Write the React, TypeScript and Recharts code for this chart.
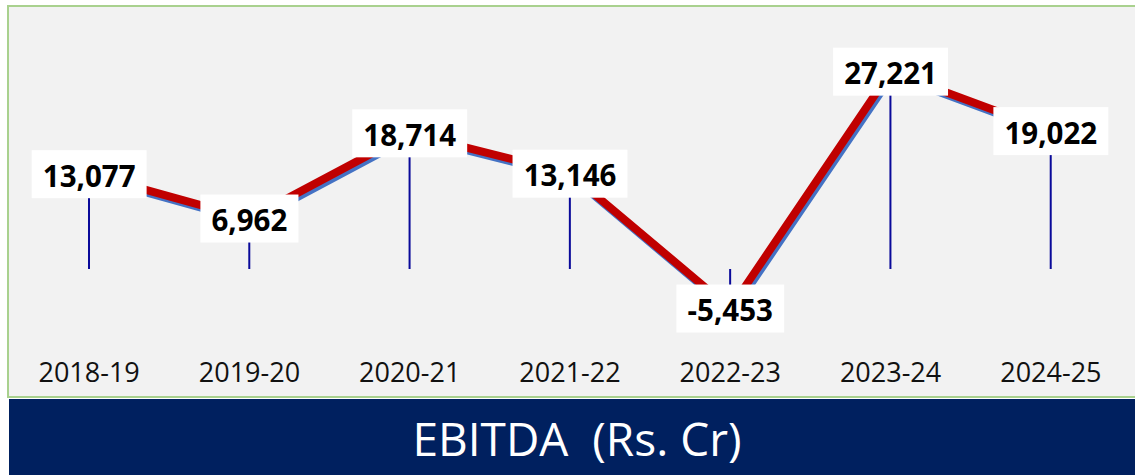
import React from "react";
import { ComposedChart, Line, Bar, XAxis, YAxis, LabelList } from "recharts";

const categories = ["2018-19", "2019-20", "2020-21", "2021-22", "2022-23", "2023-24", "2024-25"];
const ebitda = [13077, 6962, 18714, 13146, -5453, 27221, 19022];
const yDomain = [-10000, 30000];
const title = "EBITDA  (Rs. Cr)";

const data = categories.map((c, i) => ({ year: c, value: ebitda[i] }));

const fmt = (v: number) => v.toLocaleString("en-US");

const estWidth = (s: string, fs: number) => {
  let w = 0;
  for (const ch of s) {
    if (ch >= "0" && ch <= "9") w += 0.572;
    else if (ch === ",") w += 0.29;
    else if (ch === "-") w += 0.33;
    else w += 0.5;
  }
  return w * fs;
};

const ValueLabel = (props: any) => {
  const { x, y, value } = props;
  const fs = 29.5;
  const s = fmt(Number(value));
  const w = estWidth(s, fs) + 22;
  const h = 48;
  return (
    <g>
      <rect x={x - w / 2} y={y - h / 2} width={w} height={h} fill="#ffffff" />
      <text
        x={x}
        y={y + 1}
        textAnchor="middle"
        dominantBaseline="central"
        fontFamily="'Open Sans', sans-serif"
        fontWeight={700}
        fontSize={fs}
        fill="#000000"
      >
        {s}
      </text>
    </g>
  );
};

const XTick = (props: any) => {
  const { x, payload } = props;
  return (
    <text
      x={x}
      y={382}
      textAnchor="middle"
      fontFamily="'Open Sans', sans-serif"
      fontSize={27}
      fill="#111111"
    >
      {payload.value}
    </text>
  );
};

export default function App() {
  return (
    <div style={{ position: "absolute", left: 0, top: 0, width: 1135, height: 475, background: "#ffffff", overflow: "hidden" }}>
      <style>{`.shadow-line { transform: translate(2px, 3px); }`}</style>
      <div
        style={{
          position: "absolute",
          left: 7,
          top: 5,
          width: 1140,
          height: 393,
          background: "#f2f2f2",
          border: "2px solid #a9d18e",
          boxSizing: "border-box",
        }}
      />
      <div
        style={{
          position: "absolute",
          left: 9,
          top: 399,
          width: 1126,
          height: 76,
          background: "#00205f",
        }}
      />
      <svg style={{ position: "absolute", left: 0, top: 0 }} width={1135} height={475}>
        <text
          x={577}
          y={456}
          textAnchor="middle"
          fontFamily="'Open Sans', sans-serif"
          fontSize={46}
          fill="#ffffff"
          style={{ whiteSpace: "pre" }}
        >
          {title}
        </text>
      </svg>
      <div style={{ position: "absolute", left: 0, top: 0 }}>
        <ComposedChart
          width={1135}
          height={398}
          data={data}
          margin={{ top: 51.5, bottom: 0, left: 9, right: 4 }}
        >
          <XAxis dataKey="year" axisLine={false} tickLine={false} tick={<XTick />} interval={0} height={56.5} />
          <YAxis hide domain={yDomain} />
          <Bar dataKey="value" barSize={2} fill="#0a0a9a" isAnimationActive={false} />
          <Line
            className="shadow-line"
            dataKey="value"
            stroke="#4472c4"
            strokeWidth={8}
            dot={false}
            strokeLinejoin="round"
            isAnimationActive={false}
          />
          <Line
            dataKey="value"
            stroke="#c00000"
            strokeWidth={8}
            dot={false}
            strokeLinejoin="round"
            isAnimationActive={false}
          >
            <LabelList dataKey="value" content={<ValueLabel />} />
          </Line>
        </ComposedChart>
      </div>
    </div>
  );
}
